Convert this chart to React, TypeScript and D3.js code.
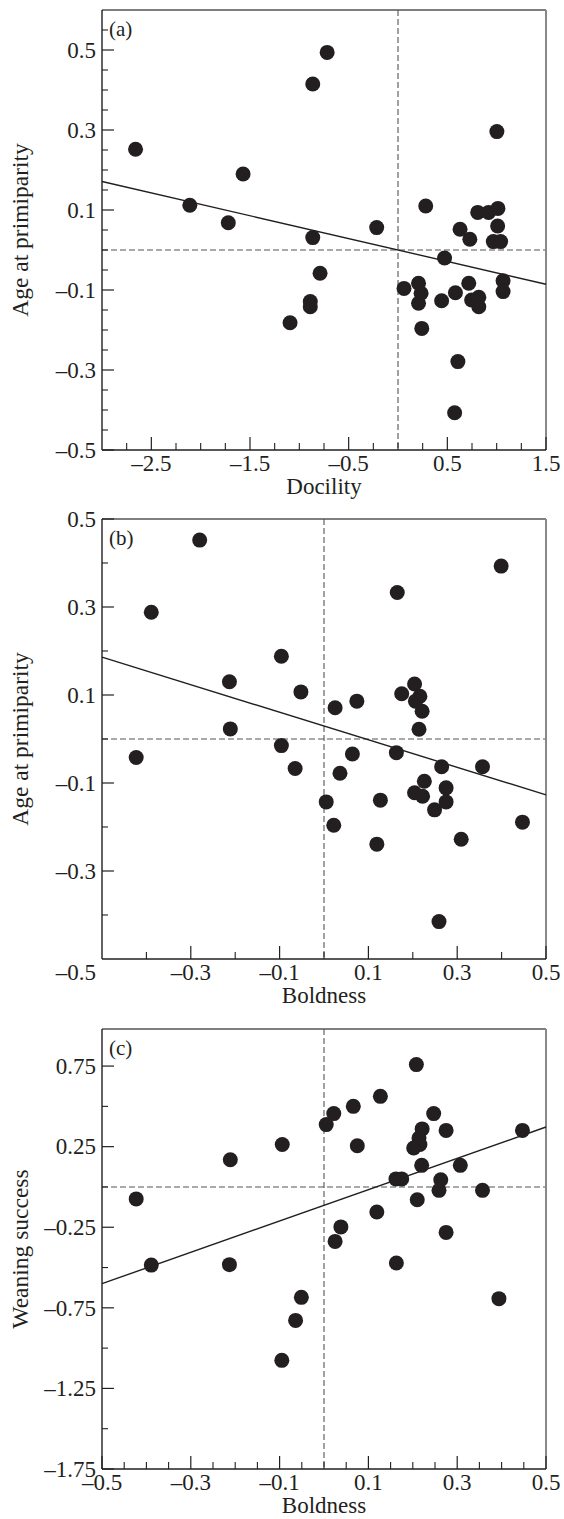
import React from "react";
import * as d3 from "d3";

// panel (a): docility vs age at primiparity
const docilityA = [-2.66, -2.11, -1.57, -1.72, -0.864, -0.718, -0.864, -0.216, 1.002, 0.281, 0.808, 0.918, 1.013, 1.01, 0.629, 0.728, 0.966, 1.04, 0.472, -0.79, -0.889, -0.889, -1.094, 0.061, 0.208, 0.234, 0.208, 0.241, 0.442, 0.582, 0.717, 0.746, 0.819, 0.819, 1.065, 1.065, 0.607, 0.574];
const ageA = [0.252, 0.112, 0.19, 0.068, 0.415, 0.494, 0.031, 0.056, 0.296, 0.11, 0.094, 0.094, 0.104, 0.06, 0.052, 0.027, 0.021, 0.021, -0.02, -0.058, -0.129, -0.142, -0.182, -0.096, -0.083, -0.108, -0.133, -0.196, -0.127, -0.107, -0.083, -0.125, -0.118, -0.142, -0.077, -0.104, -0.279, -0.407];

// panel (b): boldness vs age at primiparity
const boldB = [-0.28, -0.389, 0.399, 0.165, -0.096, -0.213, -0.052, 0.025, 0.074, 0.175, 0.204, 0.216, 0.206, 0.221, 0.214, -0.211, -0.423, -0.096, 0.064, 0.163, -0.065, 0.036, 0.005, 0.022, 0.127, 0.119, 0.265, 0.357, 0.226, 0.204, 0.222, 0.275, 0.275, 0.249, 0.309, 0.447, 0.259];
const ageB = [0.452, 0.288, 0.393, 0.333, 0.188, 0.13, 0.107, 0.071, 0.086, 0.103, 0.125, 0.097, 0.086, 0.063, 0.022, 0.023, -0.042, -0.015, -0.034, -0.031, -0.067, -0.078, -0.143, -0.196, -0.139, -0.239, -0.063, -0.063, -0.096, -0.122, -0.13, -0.111, -0.143, -0.161, -0.228, -0.189, -0.415];

// panel (c): boldness vs weaning success
const boldC = [-0.423, -0.389, -0.211, -0.213, -0.094, 0.005, 0.022, 0.066, 0.075, 0.127, 0.208, 0.247, 0.221, 0.214, 0.216, 0.202, 0.275, 0.447, 0.22, 0.307, 0.162, 0.175, 0.263, 0.259, 0.357, 0.21, 0.119, 0.038, 0.025, 0.275, 0.163, -0.051, -0.064, -0.095, 0.394];
const weanC = [-0.074, -0.485, 0.169, -0.482, 0.263, 0.387, 0.455, 0.5, 0.256, 0.562, 0.759, 0.455, 0.36, 0.304, 0.263, 0.242, 0.351, 0.351, 0.134, 0.134, 0.05, 0.05, 0.045, -0.021, -0.021, -0.079, -0.155, -0.248, -0.338, -0.282, -0.472, -0.685, -0.828, -1.076, -0.693];

// regression lines [slope, intercept]
const fitA = [-0.0571, 0.0];
const fitB = [-0.313, 0.0295];
const fitC = [0.972, -0.114];

const ticksXA = [-2.5, -1.5, -0.5, 0.5, 1.5];
const labelsXA = ["–2.5", "–1.5", "–0.5", "0.5", "1.5"];
const ticksYA = [0.5, 0.3, 0.1, -0.1, -0.3, -0.5];
const labelsYA = ["0.5", "0.3", "0.1", "–0.1", "–0.3", "–0.5"];

const ticksXB = [-0.3, -0.1, 0.1, 0.3, 0.5];
const labelsXB = ["–0.3", "–0.1", "0.1", "0.3", "0.5"];
const ticksYB = [0.5, 0.3, 0.1, -0.1, -0.3];
const labelsYB = ["0.5", "0.3", "0.1", "–0.1", "–0.3"];

const ticksXC = [-0.5, -0.3, -0.1, 0.1, 0.3, 0.5];
const labelsXC = ["–0.5", "–0.3", "–0.1", "0.1", "0.3", "0.5"];
const ticksYC = [0.75, 0.25, -0.25, -0.75, -1.25, -1.75];
const labelsYC = ["0.75", "0.25", "–0.25", "–0.75", "–1.25", "–1.75"];

const W = 564;
const H = 1519;
const LEFT = 102;
const RIGHT = 546;
const PH = 440;
const INK = "#231f20";
const FONT = "'Liberation Serif', 'Times New Roman', serif";

const Panel = ({ top, xs, ys, fit, xDomain, yDomain, xTicks, xLabels, yTicks, yLabels, xMinor, yMinor, xTitle, yTitle, tag, cornerLabel }) => {
  const bottom = top + PH;
  const x = d3.scaleLinear().domain(xDomain).range([LEFT, RIGHT]);
  const y = d3.scaleLinear().domain(yDomain).range([bottom, top]);
  const near = (v, arr) => arr.some((a) => Math.abs(a - v) < 1e-6);
  const minX = xMinor.filter((v) => !near(v, xTicks) && v > xDomain[0] + 1e-6 && v < xDomain[1] - 1e-6);
  const minY = yMinor.filter((v) => !near(v, yTicks) && v > yDomain[0] + 1e-6 && v < yDomain[1] - 1e-6);
  const line = d3.line().x((d) => x(d)).y((d) => y(fit[0] * d + fit[1]));

  return (
    <g>
      {/* reference lines */}
      <line x1={x(0)} x2={x(0)} y1={top} y2={bottom} stroke="#555" strokeWidth={1.1} strokeDasharray="6,3" />
      <line x1={LEFT} x2={RIGHT} y1={y(0)} y2={y(0)} stroke="#555" strokeWidth={1.1} strokeDasharray="6,3" />
      {/* frame */}
      <line x1={LEFT} x2={RIGHT} y1={top} y2={top} stroke="#555" strokeWidth={1.3} />
      <line x1={RIGHT} x2={RIGHT} y1={top} y2={bottom} stroke="#888" strokeWidth={2} />
      <line x1={LEFT} x2={LEFT} y1={top} y2={bottom} stroke={INK} strokeWidth={1.4} />
      <line x1={LEFT} x2={RIGHT} y1={bottom} y2={bottom} stroke={INK} strokeWidth={1.4} />
      {/* ticks */}
      {xTicks.map((v) => (
        <line key={"xt" + v} x1={x(v)} x2={x(v)} y1={bottom} y2={bottom - 13} stroke={INK} strokeWidth={1.2} />
      ))}
      {minX.map((v) => (
        <line key={"xm" + v} x1={x(v)} x2={x(v)} y1={bottom} y2={bottom - 7} stroke={INK} strokeWidth={1.1} />
      ))}
      {yTicks.map((v) => (
        <line key={"yt" + v} x1={LEFT} x2={LEFT + 12} y1={y(v)} y2={y(v)} stroke={INK} strokeWidth={1.2} />
      ))}
      {minY.map((v) => (
        <line key={"ym" + v} x1={LEFT} x2={LEFT + 6} y1={y(v)} y2={y(v)} stroke={INK} strokeWidth={1.1} />
      ))}
      {/* fit */}
      <path d={line(xDomain)} fill="none" stroke={INK} strokeWidth={1.4} />
      {/* points */}
      {xs.map((v, i) => (
        <circle key={i} cx={x(v)} cy={y(ys[i])} r={7.5} fill={INK} />
      ))}
      {/* labels */}
      <g fontFamily={FONT} fontSize={23} fill={INK}>
        {xTicks.map((v, i) => (
          <text key={"xl" + v} x={x(v)} y={bottom + 21} textAnchor="middle">{xLabels[i]}</text>
        ))}
        {yTicks.map((v, i) => (
          <text key={"yl" + v} x={LEFT - 6} y={y(v)} dy="0.34em" textAnchor="end">{yLabels[i]}</text>
        ))}
        {cornerLabel && (
          <text x={LEFT - 6} y={bottom + 21} textAnchor="end">{cornerLabel}</text>
        )}
        <text x={(LEFT + RIGHT) / 2} y={bottom + 44} textAnchor="middle" fontSize={23}>{xTitle}</text>
        <text transform={`translate(28,${top + PH / 2}) rotate(-90)`} textAnchor="middle" fontSize={23.5}>{yTitle}</text>
        <text x={LEFT + 7} y={top + 26} fontSize={21}>{tag}</text>
      </g>
    </g>
  );
};

export default function App() {
  return (
    <div>
      <style>{`body{margin:0}`}</style>
      <svg width={W} height={H} style={{ display: "block", background: "#fff" }}>
        <Panel
          top={10} xs={docilityA} ys={ageA} fit={fitA}
          xDomain={[-3, 1.5]} yDomain={[-0.5, 0.6]}
          xTicks={ticksXA} xLabels={labelsXA} yTicks={ticksYA} yLabels={labelsYA}
          xMinor={d3.range(-3, 1.5001, 0.25)} yMinor={d3.range(-0.5, 0.6001, 0.05)}
          xTitle="Docility" yTitle="Age at primiparity" tag="(a)"
        />
        <Panel
          top={519} xs={boldB} ys={ageB} fit={fitB}
          xDomain={[-0.5, 0.5]} yDomain={[-0.5, 0.5]}
          xTicks={ticksXB} xLabels={labelsXB} yTicks={ticksYB} yLabels={labelsYB}
          xMinor={d3.range(-0.4, 0.5, 0.2)} yMinor={d3.range(-0.4, 0.5, 0.2)}
          xTitle="Boldness" yTitle="Age at primiparity" tag="(b)" cornerLabel="–0.5"
        />
        <Panel
          top={1029} xs={boldC} ys={weanC} fit={fitC}
          xDomain={[-0.5, 0.5]} yDomain={[-1.75, 0.98]}
          xTicks={ticksXC} xLabels={labelsXC} yTicks={ticksYC} yLabels={labelsYC}
          xMinor={d3.range(-0.5, 0.5001, 0.05)} yMinor={d3.range(-1.5, 0.9, 0.5)}
          xTitle="Boldness" yTitle="Weaning success" tag="(c)"
        />
      </svg>
    </div>
  );
}
